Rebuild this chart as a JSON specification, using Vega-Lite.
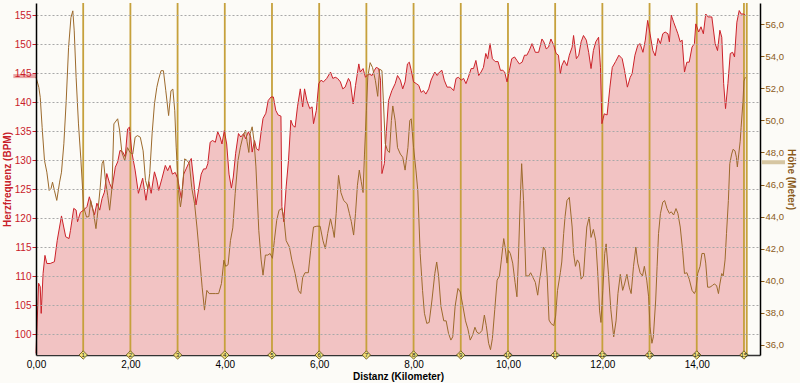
{
"$schema": "https://vega.github.io/schema/vega-lite/v6.json",
"width": 724, "height": 352,
"autosize": "none",
"padding": {"left": 36, "top": 3, "right": 40, "bottom": 28},
"background": "#fcfbf7",
"config": {"view": {"stroke": null}, "font": "Liberation Sans"},
"datasets": {
"hr": [
{"km":0.00,"hr":96.7},{"km":0.055,"hr":108.8},{"km":0.09,"hr":108.2},{"km":0.11,"hr":103.6},{"km":0.15,"hr":110.5},{"km":0.19,"hr":113.6},{"km":0.23,"hr":112.2},{"km":0.30,"hr":112.2},{"km":0.39,"hr":112.5},{"km":0.45,"hr":116.2},{"km":0.54,"hr":120.4},{"km":0.63,"hr":116.8},{"km":0.70,"hr":116.5},{"km":0.73,"hr":117.9},{"km":0.80,"hr":121.7},{"km":0.85,"hr":121.4},{"km":0.88,"hr":119.4},{"km":0.94,"hr":121.0},{"km":1.01,"hr":121.4},{"km":1.08,"hr":122.0},{"km":1.13,"hr":123.7},{"km":1.18,"hr":122.3},{"km":1.24,"hr":120.6},{"km":1.29,"hr":122.6},{"km":1.35,"hr":121.4},{"km":1.40,"hr":123.4},{"km":1.45,"hr":124.5},{"km":1.50,"hr":127.7},{"km":1.56,"hr":126.0},{"km":1.61,"hr":125.1},{"km":1.68,"hr":128.8},{"km":1.73,"hr":129.7},{"km":1.78,"hr":131.7},{"km":1.84,"hr":131.4},{"km":1.89,"hr":130.6},{"km":1.94,"hr":135.4},{"km":1.98,"hr":135.7},{"km":2.03,"hr":131.4},{"km":2.10,"hr":128.3},{"km":2.17,"hr":124.3},{"km":2.26,"hr":126.9},{"km":2.33,"hr":123.1},{"km":2.39,"hr":126.3},{"km":2.44,"hr":124.3},{"km":2.51,"hr":128.0},{"km":2.56,"hr":126.6},{"km":2.60,"hr":124.8},{"km":2.67,"hr":126.9},{"km":2.74,"hr":129.1},{"km":2.79,"hr":128.2},{"km":2.84,"hr":129.1},{"km":2.89,"hr":127.6},{"km":2.95,"hr":127.9},{"km":3.00,"hr":126.9},{"km":3.08,"hr":123.4},{"km":3.13,"hr":127.6},{"km":3.18,"hr":128.5},{"km":3.23,"hr":129.4},{"km":3.29,"hr":130.3},{"km":3.34,"hr":126.6},{"km":3.39,"hr":122.3},{"km":3.45,"hr":125.2},{"km":3.50,"hr":127.6},{"km":3.55,"hr":128.5},{"km":3.60,"hr":128.5},{"km":3.64,"hr":129.4},{"km":3.69,"hr":133.1},{"km":3.74,"hr":133.4},{"km":3.80,"hr":133.1},{"km":3.85,"hr":134.9},{"km":3.90,"hr":134.0},{"km":3.94,"hr":132.8},{"km":3.99,"hr":135.1},{"km":4.04,"hr":132.8},{"km":4.09,"hr":127.6},{"km":4.14,"hr":125.2},{"km":4.18,"hr":127.1},{"km":4.23,"hr":131.2},{"km":4.29,"hr":134.6},{"km":4.34,"hr":134.0},{"km":4.40,"hr":134.6},{"km":4.44,"hr":133.7},{"km":4.50,"hr":134.9},{"km":4.55,"hr":134.0},{"km":4.58,"hr":131.4},{"km":4.63,"hr":133.4},{"km":4.67,"hr":132.0},{"km":4.72,"hr":131.7},{"km":4.77,"hr":134.9},{"km":4.81,"hr":137.2},{"km":4.87,"hr":138.1},{"km":4.92,"hr":140.3},{"km":4.98,"hr":140.9},{"km":5.03,"hr":140.9},{"km":5.08,"hr":138.6},{"km":5.13,"hr":137.8},{"km":5.19,"hr":137.6},{"km":5.21,"hr":122.0},{"km":5.25,"hr":119.4},{"km":5.30,"hr":125.4},{"km":5.35,"hr":130.0},{"km":5.40,"hr":136.9},{"km":5.44,"hr":136.0},{"km":5.49,"hr":135.7},{"km":5.54,"hr":139.2},{"km":5.60,"hr":142.3},{"km":5.65,"hr":139.2},{"km":5.69,"hr":142.3},{"km":5.74,"hr":140.3},{"km":5.80,"hr":138.9},{"km":5.85,"hr":139.2},{"km":5.88,"hr":136.3},{"km":5.94,"hr":138.6},{"km":5.99,"hr":143.2},{"km":6.04,"hr":143.8},{"km":6.09,"hr":143.5},{"km":6.16,"hr":144.1},{"km":6.24,"hr":145.2},{"km":6.29,"hr":144.1},{"km":6.34,"hr":144.3},{"km":6.39,"hr":144.1},{"km":6.45,"hr":143.5},{"km":6.50,"hr":142.3},{"km":6.55,"hr":142.6},{"km":6.62,"hr":144.1},{"km":6.66,"hr":143.5},{"km":6.72,"hr":139.7},{"km":6.77,"hr":142.9},{"km":6.84,"hr":146.6},{"km":6.87,"hr":145.2},{"km":6.93,"hr":145.8},{"km":6.98,"hr":144.3},{"km":7.05,"hr":144.9},{"km":7.12,"hr":144.6},{"km":7.17,"hr":145.5},{"km":7.21,"hr":146.0},{"km":7.26,"hr":145.8},{"km":7.30,"hr":143.8},{"km":7.33,"hr":127.7},{"km":7.38,"hr":129.4},{"km":7.42,"hr":134.6},{"km":7.47,"hr":140.3},{"km":7.54,"hr":142.0},{"km":7.61,"hr":143.2},{"km":7.66,"hr":144.6},{"km":7.72,"hr":143.8},{"km":7.77,"hr":142.3},{"km":7.82,"hr":143.5},{"km":7.87,"hr":146.6},{"km":7.91,"hr":146.9},{"km":7.95,"hr":145.5},{"km":8.00,"hr":143.5},{"km":8.06,"hr":143.2},{"km":8.11,"hr":142.9},{"km":8.16,"hr":141.7},{"km":8.21,"hr":142.0},{"km":8.26,"hr":141.4},{"km":8.32,"hr":142.3},{"km":8.37,"hr":143.8},{"km":8.45,"hr":145.2},{"km":8.50,"hr":144.6},{"km":8.55,"hr":145.2},{"km":8.60,"hr":145.5},{"km":8.65,"hr":143.8},{"km":8.71,"hr":142.6},{"km":8.78,"hr":142.6},{"km":8.85,"hr":142.0},{"km":8.90,"hr":144.1},{"km":8.95,"hr":144.3},{"km":9.01,"hr":143.8},{"km":9.06,"hr":144.1},{"km":9.11,"hr":143.2},{"km":9.16,"hr":144.3},{"km":9.22,"hr":145.8},{"km":9.27,"hr":145.8},{"km":9.32,"hr":147.2},{"km":9.38,"hr":144.6},{"km":9.43,"hr":145.2},{"km":9.48,"hr":146.0},{"km":9.53,"hr":148.4},{"km":9.57,"hr":147.5},{"km":9.62,"hr":150.1},{"km":9.67,"hr":147.5},{"km":9.73,"hr":147.0},{"km":9.79,"hr":147.0},{"km":9.84,"hr":145.5},{"km":9.89,"hr":145.5},{"km":9.93,"hr":145.2},{"km":9.98,"hr":143.5},{"km":10.03,"hr":145.5},{"km":10.08,"hr":147.5},{"km":10.14,"hr":147.8},{"km":10.19,"hr":147.2},{"km":10.24,"hr":146.6},{"km":10.30,"hr":146.9},{"km":10.35,"hr":148.1},{"km":10.40,"hr":148.1},{"km":10.45,"hr":148.9},{"km":10.51,"hr":150.1},{"km":10.58,"hr":148.6},{"km":10.65,"hr":148.6},{"km":10.72,"hr":150.9},{"km":10.76,"hr":150.4},{"km":10.81,"hr":149.2},{"km":10.86,"hr":149.5},{"km":10.91,"hr":150.9},{"km":10.97,"hr":149.8},{"km":11.02,"hr":148.4},{"km":11.07,"hr":148.1},{"km":11.11,"hr":144.9},{"km":11.14,"hr":146.3},{"km":11.19,"hr":147.2},{"km":11.25,"hr":146.3},{"km":11.30,"hr":148.1},{"km":11.36,"hr":149.5},{"km":11.39,"hr":151.5},{"km":11.45,"hr":147.5},{"km":11.50,"hr":148.1},{"km":11.55,"hr":150.4},{"km":11.60,"hr":151.5},{"km":11.66,"hr":150.7},{"km":11.71,"hr":148.6},{"km":11.76,"hr":145.8},{"km":11.81,"hr":148.9},{"km":11.86,"hr":150.4},{"km":11.92,"hr":151.2},{"km":11.96,"hr":146.0},{"km":11.99,"hr":136.3},{"km":12.04,"hr":138.0},{"km":12.10,"hr":137.8},{"km":12.16,"hr":142.6},{"km":12.21,"hr":146.0},{"km":12.28,"hr":147.0},{"km":12.35,"hr":148.1},{"km":12.42,"hr":147.5},{"km":12.47,"hr":145.5},{"km":12.53,"hr":142.6},{"km":12.59,"hr":144.3},{"km":12.63,"hr":144.9},{"km":12.69,"hr":148.1},{"km":12.75,"hr":149.8},{"km":12.80,"hr":150.1},{"km":12.86,"hr":148.6},{"km":12.91,"hr":150.7},{"km":12.96,"hr":154.1},{"km":13.01,"hr":151.8},{"km":13.07,"hr":148.9},{"km":13.12,"hr":148.0},{"km":13.18,"hr":151.0},{"km":13.23,"hr":150.1},{"km":13.28,"hr":151.8},{"km":13.33,"hr":152.1},{"km":13.39,"hr":151.8},{"km":13.42,"hr":150.4},{"km":13.46,"hr":155.0},{"km":13.51,"hr":153.8},{"km":13.56,"hr":152.7},{"km":13.60,"hr":151.8},{"km":13.65,"hr":150.4},{"km":13.69,"hr":150.7},{"km":13.74,"hr":145.2},{"km":13.79,"hr":146.9},{"km":13.84,"hr":146.9},{"km":13.90,"hr":149.5},{"km":13.95,"hr":150.1},{"km":13.98,"hr":153.5},{"km":14.04,"hr":152.1},{"km":14.09,"hr":153.0},{"km":14.14,"hr":151.8},{"km":14.19,"hr":155.2},{"km":14.24,"hr":154.7},{"km":14.32,"hr":154.7},{"km":14.39,"hr":150.1},{"km":14.44,"hr":148.9},{"km":14.49,"hr":152.4},{"km":14.53,"hr":151.2},{"km":14.57,"hr":143.2},{"km":14.61,"hr":138.9},{"km":14.66,"hr":143.2},{"km":14.71,"hr":148.4},{"km":14.76,"hr":148.6},{"km":14.80,"hr":147.8},{"km":14.85,"hr":153.8},{"km":14.90,"hr":155.8},{"km":14.94,"hr":155.2},{"km":14.99,"hr":155.2},{"km":15.03,"hr":155.0}
],
"alt": [
{"km":0.00,"alt":52.7},{"km":0.06,"alt":52.06},{"km":0.09,"alt":51.44},{"km":0.13,"alt":49.57},{"km":0.18,"alt":47.5},{"km":0.23,"alt":46.77},{"km":0.28,"alt":45.63},{"km":0.32,"alt":45.76},{"km":0.35,"alt":46.15},{"km":0.39,"alt":45.63},{"km":0.44,"alt":45.01},{"km":0.50,"alt":46.15},{"km":0.54,"alt":46.77},{"km":0.59,"alt":48.54},{"km":0.64,"alt":51.23},{"km":0.69,"alt":54.54},{"km":0.74,"alt":56.41},{"km":0.78,"alt":56.83},{"km":0.81,"alt":55.58},{"km":0.85,"alt":52.68},{"km":0.90,"alt":49.78},{"km":0.95,"alt":47.6},{"km":1.01,"alt":44.6},{"km":1.07,"alt":43.97},{"km":1.12,"alt":44.0},{"km":1.16,"alt":45.0},{"km":1.22,"alt":44.2},{"km":1.27,"alt":43.25},{"km":1.32,"alt":44.6},{"km":1.36,"alt":45.8},{"km":1.40,"alt":47.3},{"km":1.43,"alt":47.5},{"km":1.47,"alt":46.3},{"km":1.52,"alt":45.3},{"km":1.56,"alt":44.4},{"km":1.61,"alt":45.8},{"km":1.65,"alt":49.78},{"km":1.68,"alt":49.9},{"km":1.73,"alt":50.1},{"km":1.77,"alt":49.4},{"km":1.82,"alt":48.0},{"km":1.88,"alt":47.5},{"km":1.94,"alt":48.3},{"km":1.99,"alt":48.0},{"km":2.05,"alt":47.9},{"km":2.10,"alt":48.95},{"km":2.15,"alt":49.05},{"km":2.21,"alt":48.95},{"km":2.27,"alt":48.1},{"km":2.32,"alt":46.26},{"km":2.37,"alt":45.75},{"km":2.41,"alt":46.7},{"km":2.46,"alt":49.16},{"km":2.51,"alt":51.03},{"km":2.56,"alt":52.06},{"km":2.60,"alt":52.58},{"km":2.65,"alt":53.1},{"km":2.70,"alt":53.1},{"km":2.75,"alt":51.85},{"km":2.81,"alt":50.3},{"km":2.86,"alt":51.85},{"km":2.90,"alt":51.95},{"km":2.94,"alt":50.6},{"km":2.97,"alt":48.33},{"km":3.02,"alt":45.63},{"km":3.06,"alt":44.6},{"km":3.09,"alt":45.2},{"km":3.15,"alt":47.6},{"km":3.20,"alt":47.5},{"km":3.25,"alt":47.3},{"km":3.30,"alt":45.8},{"km":3.36,"alt":44.8},{"km":3.41,"alt":43.35},{"km":3.46,"alt":41.7},{"km":3.52,"alt":39.6},{"km":3.57,"alt":38.17},{"km":3.62,"alt":39.4},{"km":3.67,"alt":39.2},{"km":3.73,"alt":39.2},{"km":3.80,"alt":39.2},{"km":3.87,"alt":39.2},{"km":3.93,"alt":39.83},{"km":3.98,"alt":41.28},{"km":4.02,"alt":40.9},{"km":4.07,"alt":41.0},{"km":4.12,"alt":42.5},{"km":4.17,"alt":43.3},{"km":4.22,"alt":45.43},{"km":4.28,"alt":47.5},{"km":4.33,"alt":48.33},{"km":4.38,"alt":48.95},{"km":4.44,"alt":49.4},{"km":4.47,"alt":48.7},{"km":4.51,"alt":48.0},{"km":4.54,"alt":49.2},{"km":4.58,"alt":49.6},{"km":4.62,"alt":48.7},{"km":4.66,"alt":47.1},{"km":4.72,"alt":43.15},{"km":4.77,"alt":41.3},{"km":4.81,"alt":40.35},{"km":4.86,"alt":41.6},{"km":4.91,"alt":41.6},{"km":4.96,"alt":41.7},{"km":5.01,"alt":41.4},{"km":5.05,"alt":42.5},{"km":5.10,"alt":43.77},{"km":5.15,"alt":44.4},{"km":5.21,"alt":44.5},{"km":5.25,"alt":43.97},{"km":5.30,"alt":42.5},{"km":5.37,"alt":42.1},{"km":5.42,"alt":41.3},{"km":5.49,"alt":40.45},{"km":5.56,"alt":39.4},{"km":5.61,"alt":39.2},{"km":5.65,"alt":40.2},{"km":5.70,"alt":40.5},{"km":5.77,"alt":40.5},{"km":5.82,"alt":41.9},{"km":5.88,"alt":43.35},{"km":5.95,"alt":43.4},{"km":6.02,"alt":43.4},{"km":6.08,"alt":42.5},{"km":6.13,"alt":42.0},{"km":6.18,"alt":42.95},{"km":6.24,"alt":43.87},{"km":6.29,"alt":43.2},{"km":6.32,"alt":42.7},{"km":6.36,"alt":44.2},{"km":6.41,"alt":46.57},{"km":6.46,"alt":45.5},{"km":6.52,"alt":45.0},{"km":6.59,"alt":44.8},{"km":6.64,"alt":44.2},{"km":6.68,"alt":43.7},{"km":6.73,"alt":42.85},{"km":6.77,"alt":44.2},{"km":6.81,"alt":45.95},{"km":6.85,"alt":46.9},{"km":6.89,"alt":46.2},{"km":6.93,"alt":45.5},{"km":6.96,"alt":47.9},{"km":7.00,"alt":50.6},{"km":7.03,"alt":52.7},{"km":7.08,"alt":53.6},{"km":7.13,"alt":53.3},{"km":7.19,"alt":52.5},{"km":7.24,"alt":51.5},{"km":7.28,"alt":53.2},{"km":7.33,"alt":53.1},{"km":7.36,"alt":51.23},{"km":7.40,"alt":48.54},{"km":7.45,"alt":48.1},{"km":7.49,"alt":48.0},{"km":7.53,"alt":49.99},{"km":7.56,"alt":50.9},{"km":7.61,"alt":49.99},{"km":7.66,"alt":48.3},{"km":7.72,"alt":47.9},{"km":7.77,"alt":47.7},{"km":7.82,"alt":46.9},{"km":7.88,"alt":48.3},{"km":7.92,"alt":49.99},{"km":7.95,"alt":50.1},{"km":8.00,"alt":48.3},{"km":8.05,"alt":46.9},{"km":8.09,"alt":45.6},{"km":8.14,"alt":41.7},{"km":8.19,"alt":39.4},{"km":8.23,"alt":37.97},{"km":8.28,"alt":37.34},{"km":8.33,"alt":37.4},{"km":8.39,"alt":38.8},{"km":8.45,"alt":40.45},{"km":8.49,"alt":41.17},{"km":8.53,"alt":40.3},{"km":8.58,"alt":38.4},{"km":8.64,"alt":37.5},{"km":8.69,"alt":37.5},{"km":8.74,"alt":36.72},{"km":8.79,"alt":36.3},{"km":8.83,"alt":36.5},{"km":8.88,"alt":38.4},{"km":8.94,"alt":39.52},{"km":8.99,"alt":39.3},{"km":9.04,"alt":38.5},{"km":9.10,"alt":37.5},{"km":9.15,"alt":37.0},{"km":9.20,"alt":36.3},{"km":9.25,"alt":36.6},{"km":9.30,"alt":37.1},{"km":9.34,"alt":36.8},{"km":9.39,"alt":36.7},{"km":9.45,"alt":36.9},{"km":9.50,"alt":37.86},{"km":9.54,"alt":37.2},{"km":9.59,"alt":36.1},{"km":9.63,"alt":35.7},{"km":9.67,"alt":36.4},{"km":9.72,"alt":38.2},{"km":9.77,"alt":40.04},{"km":9.82,"alt":40.3},{"km":9.86,"alt":41.3},{"km":9.91,"alt":42.63},{"km":9.94,"alt":42.1},{"km":9.98,"alt":41.1},{"km":10.01,"alt":41.9},{"km":10.05,"alt":41.7},{"km":10.10,"alt":41.1},{"km":10.15,"alt":39.9},{"km":10.19,"alt":39.0},{"km":10.22,"alt":41.3},{"km":10.26,"alt":45.0},{"km":10.29,"alt":47.3},{"km":10.33,"alt":45.0},{"km":10.38,"alt":40.3},{"km":10.44,"alt":40.3},{"km":10.48,"alt":40.5},{"km":10.53,"alt":40.2},{"km":10.58,"alt":39.9},{"km":10.63,"alt":39.1},{"km":10.67,"alt":40.04},{"km":10.70,"alt":40.6},{"km":10.75,"alt":42.1},{"km":10.79,"alt":41.9},{"km":10.83,"alt":40.3},{"km":10.87,"alt":37.55},{"km":10.91,"alt":37.34},{"km":10.97,"alt":37.2},{"km":11.01,"alt":37.8},{"km":11.05,"alt":39.4},{"km":11.11,"alt":40.5},{"km":11.14,"alt":41.17},{"km":11.18,"alt":42.94},{"km":11.21,"alt":44.0},{"km":11.25,"alt":45.0},{"km":11.30,"alt":45.2},{"km":11.36,"alt":43.35},{"km":11.39,"alt":41.7},{"km":11.43,"alt":40.9},{"km":11.47,"alt":41.3},{"km":11.51,"alt":41.1},{"km":11.55,"alt":40.1},{"km":11.60,"alt":40.3},{"km":11.64,"alt":42.1},{"km":11.67,"alt":43.35},{"km":11.72,"alt":43.97},{"km":11.76,"alt":42.7},{"km":11.81,"alt":43.2},{"km":11.86,"alt":42.5},{"km":11.90,"alt":40.6},{"km":11.94,"alt":38.17},{"km":11.97,"alt":37.4},{"km":12.01,"alt":39.4},{"km":12.05,"alt":41.7},{"km":12.08,"alt":42.3},{"km":12.13,"alt":40.4},{"km":12.18,"alt":38.2},{"km":12.24,"alt":36.5},{"km":12.29,"alt":37.5},{"km":12.33,"alt":39.2},{"km":12.38,"alt":40.4},{"km":12.43,"alt":39.4},{"km":12.47,"alt":39.8},{"km":12.52,"alt":40.4},{"km":12.57,"alt":39.6},{"km":12.61,"alt":39.2},{"km":12.66,"alt":40.9},{"km":12.71,"alt":42.1},{"km":12.75,"alt":41.1},{"km":12.80,"alt":40.5},{"km":12.85,"alt":40.3},{"km":12.89,"alt":40.9},{"km":12.94,"alt":40.04},{"km":12.98,"alt":39.0},{"km":13.01,"alt":37.13},{"km":13.05,"alt":36.1},{"km":13.08,"alt":36.5},{"km":13.13,"alt":38.8},{"km":13.16,"alt":40.9},{"km":13.19,"alt":42.94},{"km":13.23,"alt":44.18},{"km":13.28,"alt":44.9},{"km":13.32,"alt":45.0},{"km":13.37,"alt":44.5},{"km":13.42,"alt":44.2},{"km":13.46,"alt":44.3},{"km":13.51,"alt":44.1},{"km":13.56,"alt":44.5},{"km":13.60,"alt":44.2},{"km":13.65,"alt":43.35},{"km":13.70,"alt":41.9},{"km":13.74,"alt":40.45},{"km":13.79,"alt":40.5},{"km":13.84,"alt":40.1},{"km":13.90,"alt":39.4},{"km":13.95,"alt":39.2},{"km":13.98,"alt":39.4},{"km":14.02,"alt":40.45},{"km":14.07,"alt":40.9},{"km":14.11,"alt":41.7},{"km":14.16,"alt":41.7},{"km":14.19,"alt":41.1},{"km":14.23,"alt":39.6},{"km":14.28,"alt":39.6},{"km":14.33,"alt":39.7},{"km":14.37,"alt":39.8},{"km":14.42,"alt":39.7},{"km":14.46,"alt":39.2},{"km":14.49,"alt":39.8},{"km":14.53,"alt":40.45},{"km":14.56,"alt":40.3},{"km":14.60,"alt":41.3},{"km":14.63,"alt":42.94},{"km":14.67,"alt":45.0},{"km":14.70,"alt":47.3},{"km":14.74,"alt":47.9},{"km":14.77,"alt":48.2},{"km":14.81,"alt":48.1},{"km":14.84,"alt":47.7},{"km":14.86,"alt":47.1},{"km":14.89,"alt":47.9},{"km":14.92,"alt":48.7},{"km":14.94,"alt":49.57},{"km":14.96,"alt":50.4},{"km":14.98,"alt":51.2},{"km":15.00,"alt":52.45},{"km":15.03,"alt":52.7}
],
"kmmarks": [
{"km":1,"lab":"1"},{"km":2,"lab":"2"},{"km":3,"lab":"3"},{"km":4,"lab":"4"},{"km":5,"lab":"5"},{"km":6,"lab":"6"},{"km":7,"lab":"7"},{"km":8,"lab":"8"},{"km":9,"lab":"9"},{"km":10,"lab":"10"},{"km":11,"lab":"11"},{"km":12,"lab":"12"},{"km":13,"lab":"13"},{"km":14,"lab":"14"},{"km":15,"lab":"15"}
],
"endmark": [{"km":15.06}],
"avghr": [{"x0":-0.48,"x1":0,"v":144.5}],
"avgalt": [{"x0":15.38,"x1":15.87,"v":47.39}]
},
"layer": [
{
"data": {"name": "hr"},
"mark": {"type": "area", "color": "#f2c3c3", "opacity": 1},
"encoding": {
"x": {"field": "km", "type": "quantitative", "scale": {"domain": [0, 15.34], "nice": false, "zero": false},
"axis": {"title": "Distanz (Kilometer)", "values": [0, 2, 4, 6, 8, 10, 12, 14], "labelExpr": "replace(format(datum.value, '.2f'), '.', ',')", "labelFlush": false, "grid": false, "ticks": false, "domainColor": "#333333", "domainWidth": 1.5, "labelFontSize": 10, "labelColor": "#000000", "labelFont": "Liberation Sans", "titleFont": "Liberation Sans", "titleFontSize": 10, "titleFontWeight": "bold", "titleColor": "#000000", "labelPadding": 4, "titlePadding": 2}},
"y": {"field": "hr", "type": "quantitative", "scale": {"domain": [96.43, 157.1], "nice": false, "zero": false},
"axis": {"title": "Herzfrequenz (BPM)", "values": [100, 105, 110, 115, 120, 125, 130, 135, 140, 145, 150, 155], "grid": true, "gridDash": [2, 2], "gridColor": "#a8a8a8", "gridWidth": 1, "tickColor": "#c8202a", "tickSize": 4, "labelColor": "#c8202a", "labelFont": "Liberation Sans", "labelFontSize": 10, "labelPadding": 1, "titleColor": "#c8202a", "titleFont": "Liberation Sans", "titleFontSize": 10, "titleFontWeight": "bold", "titlePadding": 2, "domainColor": "#000000", "domainWidth": 1.5, "zindex": 1}},
"y2": {"datum": 96.43}
}
},
{
"data": {"name": "kmmarks"},
"mark": {"type": "rule", "color": "#c6a13c", "strokeWidth": 1.8},
"encoding": {
"x": {"field": "km", "type": "quantitative", "scale": {"domain": [0, 15.34], "nice": false, "zero": false}}
}
},
{
"data": {"name": "endmark"},
"mark": {"type": "rule", "color": "#c6a13c", "strokeWidth": 1.8},
"encoding": {
"x": {"field": "km", "type": "quantitative", "scale": {"domain": [0, 15.34], "nice": false, "zero": false}}
}
},
{
"data": {"name": "hr"},
"mark": {"type": "line", "color": "#cc2229", "strokeWidth": 1},
"encoding": {
"x": {"field": "km", "type": "quantitative", "scale": {"domain": [0, 15.34], "nice": false, "zero": false}},
"y": {"field": "hr", "type": "quantitative", "scale": {"domain": [96.43, 157.1], "nice": false, "zero": false}, "axis": null}
}
},
{
"data": {"name": "avghr"},
"mark": {"type": "rule", "color": "#eaa2a2", "strokeWidth": 4},
"encoding": {
"x": {"field": "x0", "type": "quantitative", "scale": {"domain": [0, 15.34], "nice": false, "zero": false}},
"x2": {"field": "x1"},
"y": {"field": "v", "type": "quantitative", "scale": {"domain": [96.43, 157.1], "nice": false, "zero": false}, "axis": null}
}
},
{
"data": {"name": "alt"},
"mark": {"type": "line", "color": "#9c6a2c", "strokeWidth": 1},
"encoding": {
"x": {"field": "km", "type": "quantitative", "scale": {"domain": [0, 15.34], "nice": false, "zero": false}},
"y": {"field": "alt", "type": "quantitative", "scale": {"domain": [35.37, 57.32], "nice": false, "zero": false},
"axis": {"orient": "right", "title": "Höhe (Meter)", "values": [36, 38, 40, 42, 44, 46, 48, 50, 52, 54, 56], "labelExpr": "replace(format(datum.value, '.1f'), '.', ',')", "grid": false, "tickColor": "#8a5a1a", "tickSize": 4, "labelColor": "#8a5a1a", "labelFont": "Liberation Sans", "labelFontSize": 9.5, "labelPadding": 1, "titleColor": "#8a5a1a", "titleFont": "Liberation Sans", "titleFontSize": 10, "titleFontWeight": "bold", "titlePadding": 2, "domainColor": "#000000", "domainWidth": 1.5}}
}
},
{
"data": {"name": "avgalt"},
"mark": {"type": "rule", "color": "#d6c6a2", "strokeWidth": 4},
"encoding": {
"x": {"field": "x0", "type": "quantitative", "scale": {"domain": [0, 15.34], "nice": false, "zero": false}},
"x2": {"field": "x1"},
"y": {"field": "v", "type": "quantitative", "scale": {"domain": [35.37, 57.32], "nice": false, "zero": false}, "axis": null}
}
},
{
"data": {"name": "kmmarks"},
"mark": {"type": "point", "shape": "diamond", "filled": true, "fill": "#efe07a", "stroke": "#5a4a10", "strokeWidth": 0.8, "size": 70, "opacity": 1},
"encoding": {
"x": {"field": "km", "type": "quantitative", "scale": {"domain": [0, 15.34], "nice": false, "zero": false}},
"y": {"datum": 35.37, "type": "quantitative", "scale": {"domain": [35.37, 57.32], "nice": false, "zero": false}, "axis": null}
}
},
{
"data": {"name": "kmmarks"},
"mark": {"type": "text", "fontSize": 6, "color": "#222222", "font": "Liberation Sans", "baseline": "middle", "align": "center"},
"encoding": {
"x": {"field": "km", "type": "quantitative", "scale": {"domain": [0, 15.34], "nice": false, "zero": false}},
"y": {"datum": 35.37, "type": "quantitative", "scale": {"domain": [35.37, 57.32], "nice": false, "zero": false}, "axis": null},
"text": {"field": "lab"}
}
}
],
"resolve": {"scale": {"y": "independent"}}
}
